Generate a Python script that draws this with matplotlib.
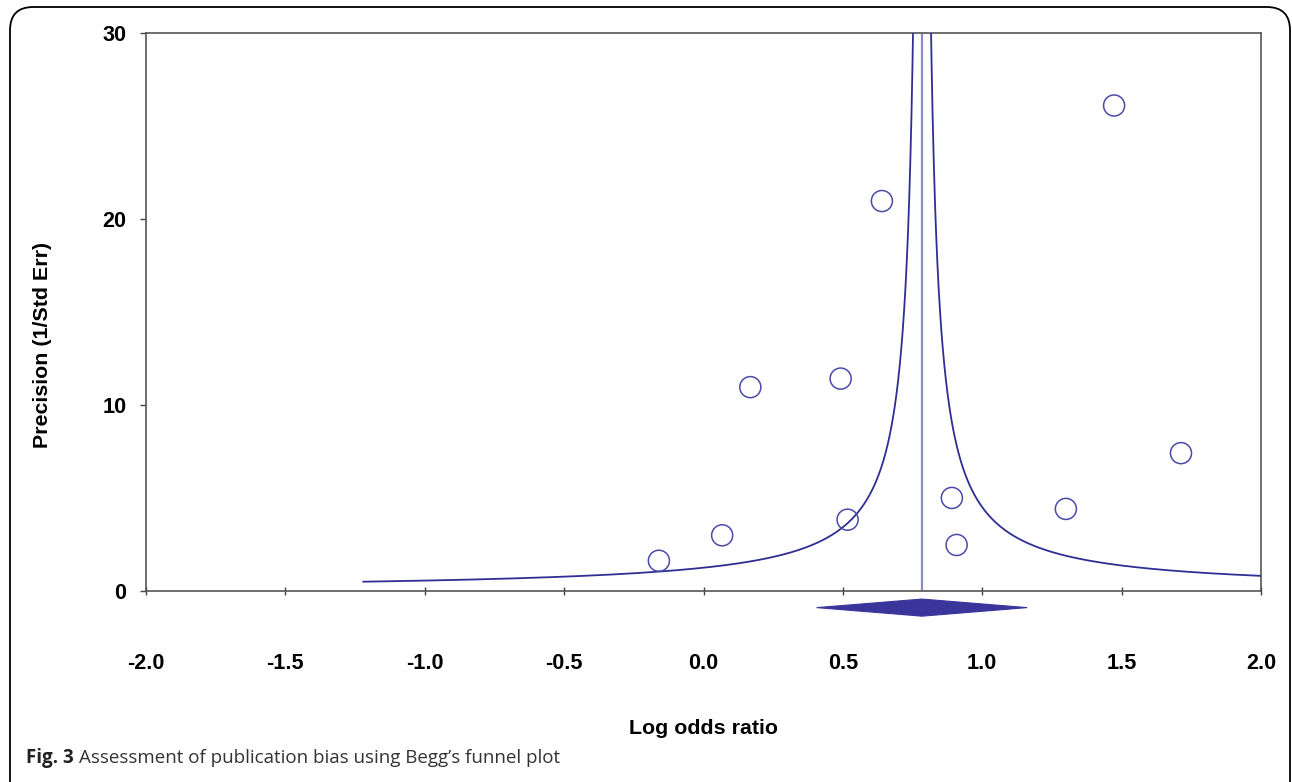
import matplotlib
matplotlib.use("Agg")
import matplotlib.pyplot as plt
import numpy as np
from matplotlib.patches import Polygon, FancyBboxPatch

# ---- data ----
log_odds_ratio = [-0.160, 0.067, 0.168, 0.492, 0.517, 0.640, 0.891, 0.908, 1.300, 1.473, 1.713]
precision = [1.61, 2.98, 10.95, 11.41, 3.82, 20.96, 4.99, 2.46, 4.40, 26.10, 7.40]

pooled_estimate = 0.784
pooled_ci_low = 0.406
pooled_ci_high = 1.161
funnel_constant = 0.97       # half-width * precision, as drawn
funnel_min_precision = 0.484

x_ticks = [-2.0, -1.5, -1.0, -0.5, 0.0, 0.5, 1.0, 1.5, 2.0]
x_tick_labels = ["-2.0", "-1.5", "-1.0", "-0.5", "0.0", "0.5", "1.0", "1.5", "2.0"]
y_ticks = [0, 10, 20, 30]
y_tick_labels = ["0", "10", "20", "30"]

W, H = 1292, 782
fig = plt.figure(figsize=(W / 100, H / 100), dpi=100)
fig.patch.set_facecolor("white")

ax = fig.add_axes([146 / W, 1 - 590.7 / H, (1261 - 146) / W, (590.7 - 33) / H])

line_col = "#2f2f93"
pt_col = "#4a4aa8"

# funnel
p = np.geomspace(funnel_min_precision, 40, 800)
ax.plot(pooled_estimate - funnel_constant / p, p, color=line_col, lw=1.3, zorder=3)
ax.plot(pooled_estimate + funnel_constant / p, p, color=line_col, lw=1.3, zorder=3)

# center line
ax.plot([pooled_estimate, pooled_estimate], [0, 30], color="#8a8acc", lw=1.6, zorder=2)

# points
ax.scatter(log_odds_ratio, precision, s=230, facecolors="none", edgecolors=pt_col,
           linewidths=1.1, zorder=4)

# pooled diamond below axis
dia_y, dia_h = -0.91, 0.46
diamond = Polygon([[pooled_ci_low, dia_y], [pooled_estimate, dia_y + dia_h],
                   [pooled_ci_high, dia_y], [pooled_estimate, dia_y - dia_h]],
                  closed=True, facecolor="#3a359b", edgecolor="#3a359b", lw=0.8,
                  clip_on=False, zorder=5)
ax.add_patch(diamond)

ax.set_xlim(-2.0, 2.0)
ax.set_ylim(0, 30)

ax.set_xticks(x_ticks)
ax.set_xticklabels(x_tick_labels)
ax.set_yticks(y_ticks)
ax.set_yticklabels(y_tick_labels)

for lab in ax.get_xticklabels() + ax.get_yticklabels():
    lab.set_fontfamily("Liberation Sans")
    lab.set_fontweight("bold")
    lab.set_fontsize(15.6)

ax.tick_params(axis="x", direction="inout", length=6, width=1, color="#444444", pad=41.5)
ax.tick_params(axis="y", direction="out", length=4, width=1, color="#444444", pad=10)

for s in ax.spines.values():
    s.set_color("#555555")
    s.set_linewidth(1.2)

ax.set_xlabel("Log odds ratio", fontfamily="Liberation Sans", fontweight="bold",
              fontsize=15.4, labelpad=33)
ax.set_ylabel("Precision (1/Std Err)", fontfamily="Liberation Sans", fontweight="bold",
              fontsize=15.4, labelpad=36)
ax.yaxis.label.set_y(0.44)

# rounded border
border = FancyBboxPatch((10 / W, -0.05), (1290 - 10) / W, (H - 7) / H + 0.05,
                        boxstyle="round,pad=0,rounding_size=0.018",
                        transform=fig.transFigure, facecolor="none",
                        edgecolor="black", lw=1.3, mutation_aspect=W / H)
fig.patches.append(border)

# caption
fig.text(26 / W, 1 - 758 / H, "Fig. 3", fontfamily="Open Sans", fontweight="bold",
         fontsize=13.5, color="#222222", va="center", ha="left")
fig.text(79 / W, 1 - 758 / H, "Assessment of publication bias using Begg\u2019s funnel plot",
         fontfamily="Open Sans", fontsize=13.5, color="#333333", va="center", ha="left")

fig.savefig("out.png", dpi=100)
